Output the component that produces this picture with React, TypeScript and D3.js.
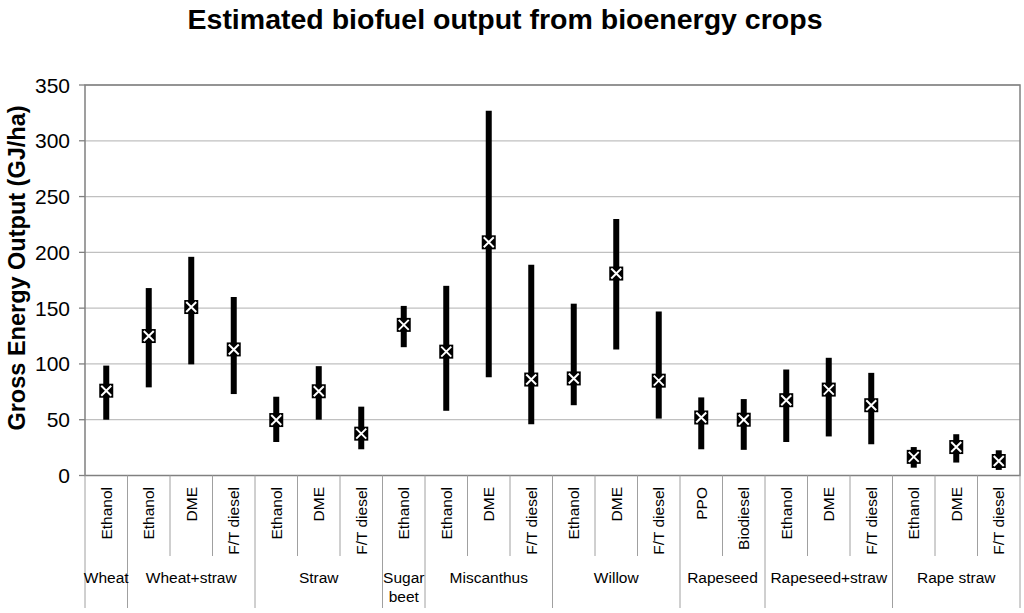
import React from "react";
import * as d3 from "d3";

const groups = ["Wheat", "Wheat+straw", "Straw", "Sugar beet", "Miscanthus", "Willow", "Rapeseed", "Rapeseed+straw", "Rape straw"];
const groupOf = [0, 1, 1, 1, 2, 2, 2, 3, 4, 4, 4, 5, 5, 5, 6, 6, 7, 7, 7, 8, 8, 8];
const fuels = ["Ethanol", "Ethanol", "DME", "F/T diesel", "Ethanol", "DME", "F/T diesel", "Ethanol", "Ethanol", "DME", "F/T diesel", "Ethanol", "DME", "F/T diesel", "PPO", "Biodiesel", "Ethanol", "DME", "F/T diesel", "Ethanol", "DME", "F/T diesel"];
const mids = [76, 125, 151, 113, 49.7, 75.5, 37.5, 135, 111, 209, 86, 87, 181, 85, 52, 50, 67.5, 77, 63, 16.7, 25.5, 13];
const highs = [98.5, 168, 196, 160, 70.6, 98, 61.7, 152, 170, 327, 189, 154, 230, 147, 70, 68.5, 95, 105.5, 92, 25.5, 37, 22.6];
const lows = [50, 79, 99.6, 73, 30, 50, 23.5, 115, 58, 88, 46, 63, 113, 51, 23.5, 23, 30, 35, 28, 7, 11.6, 5];
const yTicks = [0, 50, 100, 150, 200, 250, 300, 350];

const W = 1024, H = 613;
const L = 85, R = 1020, T = 85, B = 475.5;

export default function App() {
  const n = fuels.length;
  const x = d3.scaleBand<number>().domain(d3.range(n)).range([L, R]).padding(0);
  const y = d3.scaleLinear().domain([0, 350]).range([B, T]);
  const bw = x.bandwidth();
  const cx = (i: number) => (x(i) as number) + bw / 2;

  const spans = groups.map((g, gi) => {
    const idx = d3.range(n).filter((i) => groupOf[i] === gi);
    return { name: g, start: x(idx[0]) as number, end: (x(idx[idx.length - 1]) as number) + bw };
  });
  const font = "Arial, 'Liberation Sans', sans-serif";
  const ms = 14;

  return (
    <svg width={W} height={H} style={{ position: "absolute", left: 0, top: 0, background: "#fff" }} fontFamily={font}>
      <text x={505} y={29} textAnchor="middle" fontSize={28.5} fontWeight="bold">Estimated biofuel output from bioenergy crops</text>
      {yTicks.filter((t) => t > 0).map((t) => (
        <line key={t} x1={L} x2={R} y1={y(t)} y2={y(t)} stroke="#c0c0c0" strokeWidth={1.3} />
      ))}
      {yTicks.map((t) => (
        <g key={"t" + t}>
          <line x1={L - 6} x2={L} y1={y(t)} y2={y(t)} stroke="#808080" strokeWidth={1.3} />
          <text x={70} y={y(t) + 7.5} textAnchor="end" fontSize={21}>{t}</text>
        </g>
      ))}
      <text transform={`translate(25,268) rotate(-90)`} textAnchor="middle" fontSize={23.5} fontWeight="bold">Gross Energy Output (GJ/ha)</text>
      <rect x={L} y={T} width={R - L} height={B - T} fill="none" stroke="#808080" strokeWidth={1.5} />
      {d3.range(n + 1).map((i) => {
        const xx = i < n ? (x(i) as number) : R;
        const isGroup = i === 0 || i === n || groupOf[i] !== groupOf[i - 1];
        return <line key={"s" + i} x1={xx} x2={xx} y1={B} y2={isGroup ? 608 : 556} stroke="#a0a0a0" strokeWidth={1} />;
      })}
      {fuels.map((f, i) => (
        <text key={"f" + i} transform={`translate(${cx(i) + 5.5},487) rotate(-90)`} textAnchor="end" fontSize={15.5}>{f}</text>
      ))}
      {spans.map((s) => {
        const mid = (s.start + s.end) / 2;
        if (s.name === "Sugar beet") {
          return (
            <text key={s.name} x={mid} y={583} textAnchor="middle" fontSize={15.5}>
              <tspan x={mid} y={583}>Sugar</tspan>
              <tspan x={mid} y={602}>beet</tspan>
            </text>
          );
        }
        return <text key={s.name} x={mid} y={583} textAnchor="middle" fontSize={15.5}>{s.name}</text>;
      })}
      {mids.map((m, i) => (
        <g key={"r" + i}>
          <line x1={cx(i)} x2={cx(i)} y1={y(highs[i])} y2={y(lows[i])} stroke="#000" strokeWidth={6} />
          <rect x={cx(i) - ms / 2} y={y(m) - ms / 2} width={ms} height={ms} fill="#000" />
          <path d={`M${cx(i) - 5},${y(m) - 5}L${cx(i) + 5},${y(m) + 5}M${cx(i) + 5},${y(m) - 5}L${cx(i) - 5},${y(m) + 5}`} stroke="#fff" strokeWidth={2} />
        </g>
      ))}
    </svg>
  );
}
